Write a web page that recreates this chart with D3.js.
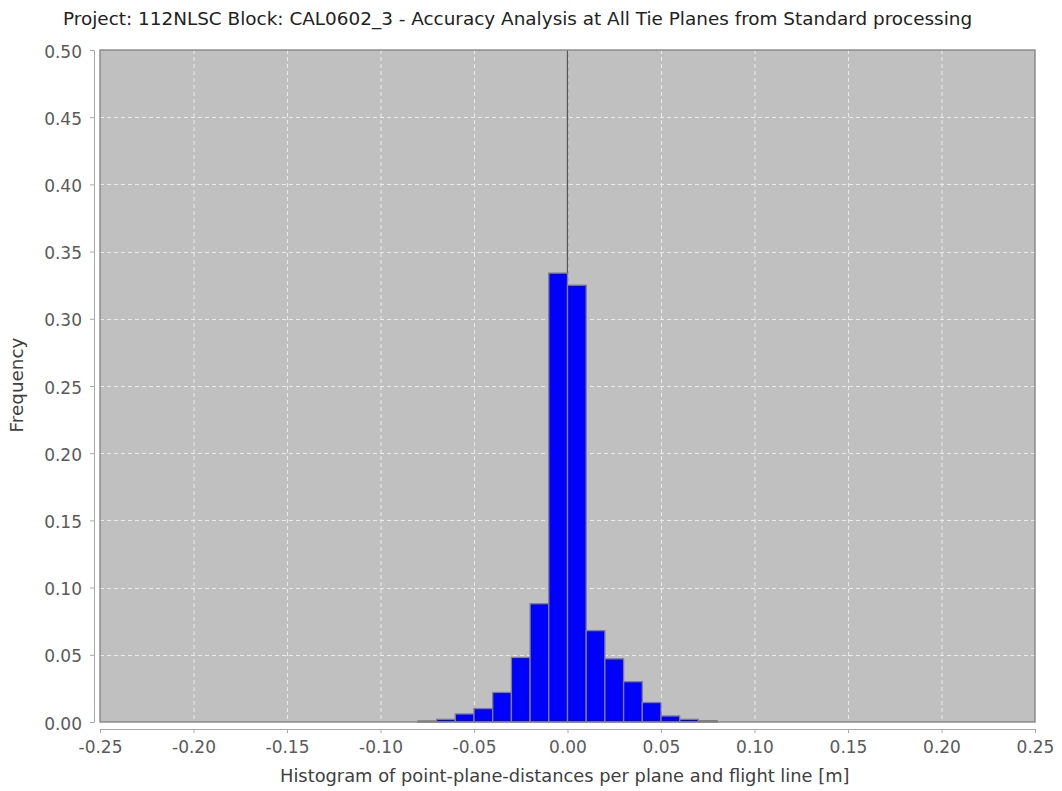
<!DOCTYPE html>
<html>
<head>
<meta charset="utf-8">
<script src="https://cdn.jsdelivr.net/npm/d3@7"></script>
<style>
  body { margin: 0; background: #fff; }
  text { font-family: "DejaVu Sans", sans-serif; }
</style>
</head>
<body>
<div id="chart"></div>
<script>
// histogram bins (lower edge, width 0.01) and their frequencies
var binStarts = [-0.08, -0.07, -0.06, -0.05, -0.04, -0.03, -0.02, -0.01,
                 0.00, 0.01, 0.02, 0.03, 0.04, 0.05, 0.06, 0.07];
var binWidth = 0.01;
var frequencies = [0.0008, 0.002, 0.006, 0.010, 0.022, 0.048, 0.088, 0.334,
                   0.325, 0.068, 0.047, 0.030, 0.0145, 0.0045, 0.002, 0.001];
var xTicks = [-0.25, -0.20, -0.15, -0.10, -0.05, 0.00, 0.05, 0.10, 0.15, 0.20, 0.25];
var yTicks = [0.00, 0.05, 0.10, 0.15, 0.20, 0.25, 0.30, 0.35, 0.40, 0.45, 0.50];

var width = 1062, height = 791;
var plot = { left: 100, top: 50, right: 1035, bottom: 722 };

var svg = d3.select("#chart").append("svg")
  .attr("width", width)
  .attr("height", height);

var x = d3.scaleLinear().domain([-0.25, 0.25]).range([plot.left, plot.right]);
var y = d3.scaleLinear().domain([0, 0.5]).range([plot.bottom, plot.top]);

// plot background
svg.append("rect")
  .attr("x", plot.left).attr("y", plot.top)
  .attr("width", plot.right - plot.left).attr("height", plot.bottom - plot.top)
  .attr("fill", "#c0c0c0");

// gridlines
svg.append("g").selectAll("line").data(xTicks.slice(1, -1)).enter().append("line")
  .attr("x1", d => x(d) + 0.5).attr("x2", d => x(d) + 0.5)
  .attr("y1", plot.top).attr("y2", plot.bottom)
  .attr("stroke", "#ebebeb").attr("stroke-width", 1).attr("stroke-dasharray", "4,3");
svg.append("g").selectAll("line").data(yTicks.slice(1, -1)).enter().append("line")
  .attr("x1", plot.left).attr("x2", plot.right)
  .attr("y1", d => Math.round(y(d)) + 0.5).attr("y2", d => Math.round(y(d)) + 0.5)
  .attr("stroke", "#ebebeb").attr("stroke-width", 1).attr("stroke-dasharray", "4,3");

// zero marker
svg.append("line")
  .attr("x1", x(0)).attr("x2", x(0))
  .attr("y1", plot.top).attr("y2", plot.bottom)
  .attr("stroke", "#555").attr("stroke-width", 1.3);

// bars
svg.append("g").selectAll("rect").data(binStarts).enter().append("rect")
  .attr("x", d => x(d))
  .attr("y", (d, i) => y(frequencies[i]))
  .attr("width", d => x(d + binWidth) - x(d))
  .attr("height", (d, i) => y(0) - y(frequencies[i]))
  .attr("fill", "#0000ff")
  .attr("stroke", "#808080")
  .attr("stroke-width", 1.3);

// plot outline
svg.append("rect")
  .attr("x", plot.left).attr("y", plot.top)
  .attr("width", plot.right - plot.left).attr("height", plot.bottom - plot.top)
  .attr("fill", "none").attr("stroke", "#808080").attr("stroke-width", 1.3);

// axes
var xAxis = d3.axisBottom(x).tickValues(xTicks).tickFormat(d3.format(".2f")).tickSize(4).tickPadding(8);
var yAxis = d3.axisLeft(y).tickValues(yTicks).tickFormat(d3.format(".2f")).tickSize(4).tickPadding(8);

var gx = svg.append("g").attr("transform", "translate(0," + (plot.bottom + 7) + ")").call(xAxis);
var gy = svg.append("g").attr("transform", "translate(" + (plot.left - 6) + ",0)").call(yAxis);

[gx, gy].forEach(function(g) {
  g.select(".domain").attr("stroke", "#a8a8a8");
  g.selectAll(".tick line").attr("stroke", "#a8a8a8");
  g.selectAll(".tick text")
    .attr("fill", "#5a5a5a")
    .style("font-family", "'DejaVu Sans', sans-serif")
    .style("font-size", "17px");
});
gx.selectAll(".tick text").text(d => d3.format(".2f")(d).replace("−", "-"));
gy.selectAll(".tick text").text(d => d3.format(".2f")(d).replace("−", "-")).attr("dy", "0.42em");

function fitText(sel, target) {
  var w = sel.node().getComputedTextLength();
  var fs = parseFloat(sel.style("font-size"));
  sel.style("font-size", (fs * target / w) + "px");
}

// title
var title = svg.append("text")
  .attr("x", 63).attr("y", 25)
  .attr("fill", "#222")
  .style("font-size", "16px")
  .text("Project: 112NLSC Block: CAL0602_3 - Accuracy Analysis at All Tie Planes from Standard processing");
fitText(title, 910);

// axis labels
var xLabel = svg.append("text")
  .attr("x", 280).attr("y", 782)
  .attr("fill", "#404040")
  .style("font-size", "16px")
  .text("Histogram of point-plane-distances per plane and flight line [m]");
fitText(xLabel, 570);

var yLabel = svg.append("text")
  .attr("transform", "translate(23,385) rotate(-90)")
  .attr("text-anchor", "middle")
  .attr("fill", "#404040")
  .style("font-size", "16px")
  .text("Frequency");
fitText(yLabel, 95);
</script>
</body>
</html>
